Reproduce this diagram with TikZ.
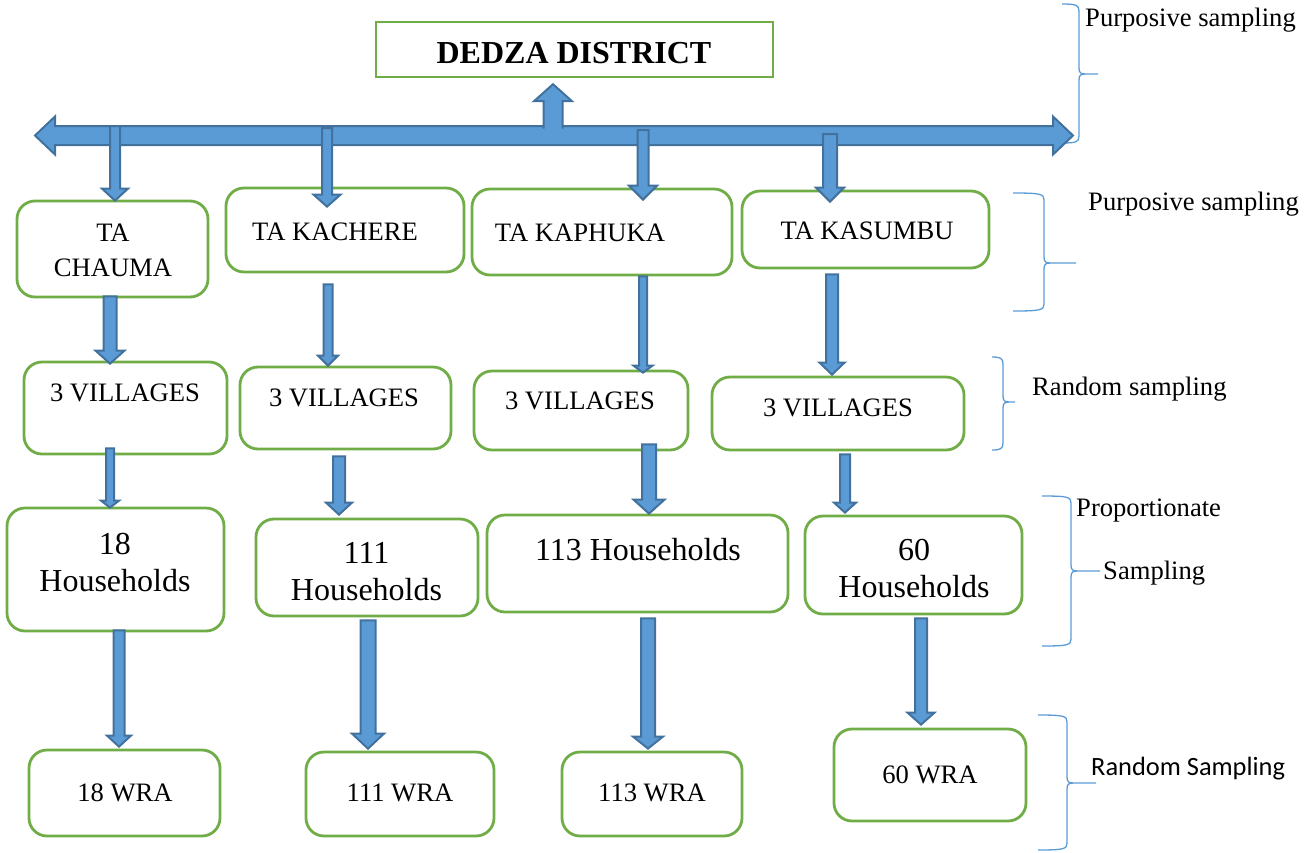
\documentclass[tikz,border=0pt]{standalone}
\usepackage{fontspec}
\setmainfont{Liberation Serif}
\newfontfamily\calibrifont{Carlito}
\usetikzlibrary{calc}
\definecolor{arrfill}{HTML}{5B9BD5}
\definecolor{arredge}{HTML}{41719C}
\definecolor{boxgreen}{HTML}{70AD47}
\definecolor{bracecol}{HTML}{5B9BD5}
\tikzset{
 blk/.style={fill=arrfill, draw=arredge, line width=2pt, line join=miter},
 rbox/.style={draw=boxgreen, line width=2.8pt, rounded corners=18pt, fill=white, inner sep=0pt},
 dbox/.style={draw=boxgreen, line width=2.4pt, fill=white, inner sep=0pt},
 btxt/.style={font=\fontsize{26.6}{35}\selectfont, align=center, inner sep=0pt},
 htxt/.style={font=\fontsize{32}{37}\selectfont, align=center, inner sep=0pt},
 lbl/.style={font=\fontsize{26.6}{30}\selectfont, inner sep=0pt, anchor=base west},
 brc/.style={draw=bracecol, line width=1.3pt},
}
% x, start anchor, start dy, end anchor, end dy, shaft half width, head half width, head length
\newcommand\vblock[8]{%
 \draw[blk] let \p1=(#2), \p2=(#4) in
  ({(#1-#6)*1pt},{\y1-(#3)*1pt}) --
  ({(#1-#6)*1pt},{\y2-(#5)*1pt+(#8)*1pt}) --
  ({(#1-#7)*1pt},{\y2-(#5)*1pt+(#8)*1pt}) --
  ({#1*1pt},{\y2-(#5)*1pt}) --
  ({(#1+#7)*1pt},{\y2-(#5)*1pt+(#8)*1pt}) --
  ({(#1+#6)*1pt},{\y2-(#5)*1pt+(#8)*1pt}) --
  ({(#1+#6)*1pt},{\y1-(#3)*1pt}) -- cycle;}
\newcommand\vblockopen[8]{%
 \draw[blk] let \p1=(#2), \p2=(#4) in
  ({(#1-#6)*1pt},{\y1-(#3)*1pt}) --
  ({(#1-#6)*1pt},{\y2-(#5)*1pt+(#8)*1pt}) --
  ({(#1-#7)*1pt},{\y2-(#5)*1pt+(#8)*1pt}) --
  ({#1*1pt},{\y2-(#5)*1pt}) --
  ({(#1+#7)*1pt},{\y2-(#5)*1pt+(#8)*1pt}) --
  ({(#1+#6)*1pt},{\y2-(#5)*1pt+(#8)*1pt}) --
  ({(#1+#6)*1pt},{\y1-(#3)*1pt});}
% xtip, xspine, xpoint, ytop, ymid, ybot
\newcommand\sbrace[6]{%
 \draw[brc] (#1,#4) .. controls ({#2-3},#4) and (#2,{#4+1}) .. (#2,{#4+7}) -- (#2,{#5-6}) .. controls (#2,{#5-1}) and ({#2+2},#5) .. ({#2+6},#5) -- (#3,#5);
 \draw[brc] ({#2+6},#5) .. controls ({#2+2},#5) and (#2,{#5+1}) .. (#2,{#5+6}) -- (#2,{#6-7}) .. controls (#2,{#6-1}) and ({#2-3},#6) .. (#1,#6);}
\begin{document}
\begin{tikzpicture}[x=1pt,y=-1pt]
\useasboundingbox (0,0) rectangle (1309,852);
% boxes
\node[dbox, minimum width=397pt, minimum height=55pt] (dedza) at (574.5,49.5) {};
\node[rbox, minimum width=191pt, minimum height=96pt] (t1) at (112.5,249) {};
\node[rbox, minimum width=238pt, minimum height=84pt] (t2) at (345,230) {};
\node[rbox, minimum width=260pt, minimum height=86pt] (t3) at (602,232) {};
\node[rbox, minimum width=247pt, minimum height=77pt] (t4) at (865.5,229.5) {};
\node[rbox, minimum width=203pt, minimum height=92pt] (v1) at (125.5,408) {};
\node[rbox, minimum width=211pt, minimum height=82pt] (v2) at (345.5,408) {};
\node[rbox, minimum width=214pt, minimum height=79pt] (v3) at (581,410.5) {};
\node[rbox, minimum width=252pt, minimum height=73pt] (v4) at (838,413.5) {};
\node[rbox, minimum width=217pt, minimum height=123pt] (h1) at (115.5,569.5) {};
\node[rbox, minimum width=222pt, minimum height=97pt] (h2) at (367,567.5) {};
\node[rbox, minimum width=301pt, minimum height=97pt] (h3) at (637.5,563.5) {};
\node[rbox, minimum width=217pt, minimum height=98pt] (h4) at (913.5,565) {};
\node[rbox, minimum width=191pt, minimum height=86pt] (w1) at (124.5,793) {};
\node[rbox, minimum width=188pt, minimum height=84pt] (w2) at (400,794) {};
\node[rbox, minimum width=180pt, minimum height=84pt] (w3) at (652,794) {};
\node[rbox, minimum width=192pt, minimum height=92pt] (w4) at (930,775) {};
% texts
\node[font=\bfseries\fontsize{32}{38}\selectfont, inner sep=0pt] (dedzatxt) at (574,53) {DEDZA DISTRICT};
\node[btxt] (t1x) at (113,250.5) {TA\\CHAUMA};
\node[btxt] (t2x) at (335,232) {TA KACHERE};
\node[btxt] (t3x) at (580,233) {TA KAPHUKA};
\node[btxt] (t4x) at (867,231) {TA KASUMBU};
\node[btxt] (v1x) at (125,393) {3 VILLAGES};
\node[btxt] (v2x) at (344,398) {3 VILLAGES};
\node[btxt] (v3x) at (580,401) {3 VILLAGES};
\node[btxt] (v4x) at (838,408) {3 VILLAGES};
\node[htxt] (h1x) at (115,562.5) {18\\Households};
\node[htxt] (h2x) at (366.5,571.5) {111\\Households};
\node[htxt] (h3x) at (638,550) {113 Households};
\node[htxt] (h4x) at (914,568.5) {60\\Households};
\node[btxt] (w1x) at (125,793) {18 WRA};
\node[btxt] (w2x) at (400,793) {111 WRA};
\node[btxt] (w3x) at (652,793) {113 WRA};
\node[btxt] (w4x) at (930,775) {60 WRA};
% labels
\node[lbl] (l1) at (1085,26) {Purposive sampling};
\node[lbl] (l2) at (1088,210) {Purposive sampling};
\node[lbl] (l3) at (1032,395) {Random sampling};
\node[lbl] (l4) at (1076,516) {Proportionate};
\node[lbl] (l5) at (1103,579) {Sampling};
\node[lbl, font=\calibrifont\fontsize{26.4}{30}\selectfont] (l6) at (1091,775) {Random Sampling};
% braces
\sbrace{1062}{1079}{1098}{4}{74}{143}
\sbrace{1013}{1044}{1076}{193}{263}{311}
\sbrace{992}{1003}{1015}{357}{402}{450}
\sbrace{1042}{1071}{1100}{496}{571}{646}
\sbrace{1038}{1067}{1096}{715}{783}{850}
% horizontal double block arrow
\coordinate (ltip) at (35,135.5);
\coordinate (rtip) at (1073,135.5);
\draw[blk] let \p1=(ltip), \p2=(rtip) in
 (\x1,\y1) -- (\x1+20pt,\y1+19pt) -- (\x1+20pt,\y1+9.5pt) -- (\x2-20pt,\y2+9.5pt) -- (\x2-20pt,\y2+19pt) -- (\x2,\y2)
 -- (\x2-20pt,\y2-19pt) -- (\x2-20pt,\y2-9.5pt) -- (\x1+20pt,\y1-9.5pt) -- (\x1+20pt,\y1-19pt) -- cycle;
% up arrow to district
\coordinate (s0) at (553,128.5);
\vblockopen{553}{s0}{0}{dedza.south}{6}{9.5}{19}{-17}
% arrows from the bar
\coordinate (s1) at (115,126);
\coordinate (s2) at (327,128);
\coordinate (s3) at (643,130);
\coordinate (s4) at (830,134);
\vblock{115}{s1}{0}{t1.north}{1}{5}{13}{12}
\vblock{327}{s2}{0}{t2.north}{20}{5}{13.5}{12}
\vblock{643}{s3}{0}{t3.north}{12}{5.5}{14}{14}
\vblock{830}{s4}{0}{t4.north}{12}{7}{14}{14}
% TA -> villages
\vblock{110}{t1.south}{-2}{v1.north}{3}{6.5}{14.5}{13}
\vblock{328}{t2.south}{11}{v2.north}{0}{4.5}{10}{10}
\vblock{643}{t3.south}{0}{v3.north}{3}{4}{9.5}{7}
\vblock{832}{t4.south}{5}{v4.north}{-1}{6}{12.5}{12}
% villages -> households
\vblock{110}{v1.south}{-7}{h1.north}{1}{4}{9}{7}
\vblock{339}{v2.south}{6}{h2.north}{-3}{6}{13}{12}
\vblock{649}{v3.south}{-7}{h3.north}{0}{7}{15.5}{14}
\vblock{845}{v4.south}{3}{h4.north}{-2}{5}{11}{10}
% households -> WRA
\vblock{119}{h1.south}{-2}{w1.north}{-2}{5.5}{12}{11}
\vblock{368}{h2.south}{3}{w2.north}{-2}{7.5}{16}{15}
\vblock{648}{h3.south}{5}{w3.north}{-2}{7}{15}{12}
\vblock{921}{h4.south}{3}{w4.north}{-3}{6}{13.5}{12}
\end{tikzpicture}
\end{document}
